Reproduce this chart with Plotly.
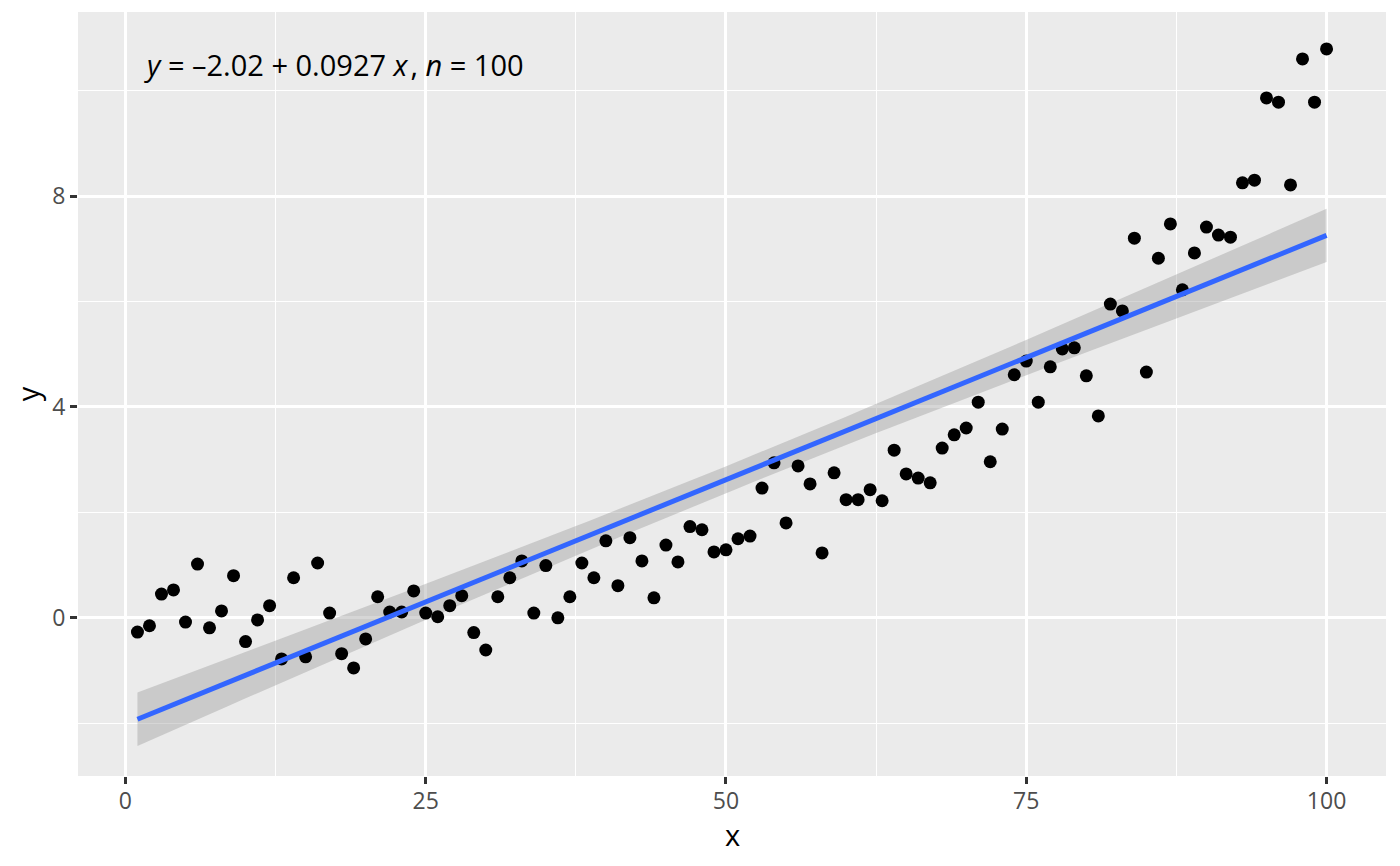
import numpy as np
import plotly.graph_objects as go

# data
x = list(range(1, 101))
y = [-0.27, -0.15, 0.45, 0.53, -0.08, 1.02, -0.19, 0.13, 0.80, -0.45,
     -0.04, 0.23, -0.78, 0.76, -0.74, 1.04, 0.09, -0.68, -0.95, -0.40,
     0.40, 0.11, 0.11, 0.51, 0.09, 0.02, 0.23, 0.42, -0.28, -0.61,
     0.40, 0.76, 1.08, 0.09, 0.99, 0.00, 0.40, 1.04, 0.76, 1.46,
     0.61, 1.52, 1.08, 0.38, 1.38, 1.06, 1.73, 1.67, 1.25, 1.29,
     1.50, 1.55, 2.46, 2.94, 1.80, 2.88, 2.54, 1.23, 2.75, 2.24,
     2.24, 2.43, 2.22, 3.18, 2.73, 2.65, 2.56, 3.22, 3.47, 3.60,
     4.09, 2.96, 3.58, 4.61, 4.87, 4.09, 4.76, 5.10, 5.12, 4.59,
     3.83, 5.95, 5.82, 7.20, 4.66, 6.82, 7.47, 6.22, 6.92, 7.41,
     7.26, 7.22, 8.25, 8.30, 9.86, 9.78, 8.21, 10.60, 9.78, 10.79]

x_ticks = [0, 25, 50, 75, 100]
y_ticks = [0, 4, 8]
eq_label = "<i>y</i> = –2.02 + 0.0927 <i>x</i>\u200a, <i>n</i> = 100"

# linear fit with 95% confidence band (like geom_smooth(method = "lm"))
xa = np.array(x, dtype=float)
ya = np.array(y, dtype=float)
n = len(xa)
slope, intercept = np.polyfit(xa, ya, 1)
resid = ya - (intercept + slope * xa)
s = np.sqrt(np.sum(resid ** 2) / (n - 2))
xg = np.linspace(xa.min(), xa.max(), 80)
yg = intercept + slope * xg
se = s * np.sqrt(1 / n + (xg - xa.mean()) ** 2 / np.sum((xa - xa.mean()) ** 2))
t975 = 1.9845
lo = yg - t975 * se
hi = yg + t975 * se

fig = go.Figure()
fig.add_trace(go.Scatter(x=np.concatenate([xg, xg[::-1]]),
                         y=np.concatenate([hi, lo[::-1]]),
                         fill='toself', fillcolor='rgba(153,153,153,0.4)',
                         line=dict(width=0), mode='lines', hoverinfo='skip'))
fig.add_trace(go.Scatter(x=x, y=y, mode='markers',
                         marker=dict(color='black', size=13)))
fig.add_trace(go.Scatter(x=xg, y=yg, mode='lines',
                         line=dict(color='#3366FF', width=5)))

axis_common = dict(showline=False, zeroline=False, gridcolor='white', gridwidth=2.6,
                   ticks='outside', ticklen=7, tickwidth=2.6, tickcolor='#333333',
                   tickfont=dict(size=23, color='#4D4D4D'), automargin=False)

# page body has an 8px margin, so the figure is a bit smaller than the window
fig.update_layout(
    width=1384, height=850, showlegend=False,
    paper_bgcolor='white', plot_bgcolor='#EBEBEB',
    font=dict(family='Open Sans', color='black'),
    margin=dict(l=70, r=6, t=4, b=82),
    xaxis=dict(range=[-3.95, 104.95], tickvals=x_ticks, ticklabelstandoff=-3,
               minor=dict(tickvals=[12.5, 37.5, 62.5, 87.5], showgrid=True, gridcolor='white', gridwidth=1.3, ticks=''),
               **axis_common),
    yaxis=dict(range=[-3.0, 11.49], tickvals=y_ticks, title=dict(text='y', font=dict(size=29), standoff=6),
               minor=dict(tickvals=[-2, 2, 6, 10], showgrid=True, gridcolor='white', gridwidth=1.3, ticks=''),
               **axis_common),
    annotations=[
        dict(text=eq_label, xref='paper', yref='paper', x=0.049, y=0.931,
             xanchor='left', yanchor='middle', showarrow=False,
             font=dict(size=29, color='black')),
        # x axis title placed by hand to sit closer to the tick labels
        dict(text='x', xref='paper', yref='paper', x=0.5, y=-0.077,
             xanchor='center', yanchor='middle', showarrow=False,
             font=dict(size=29, color='black')),
    ]
)

fig.write_html("out.html")
